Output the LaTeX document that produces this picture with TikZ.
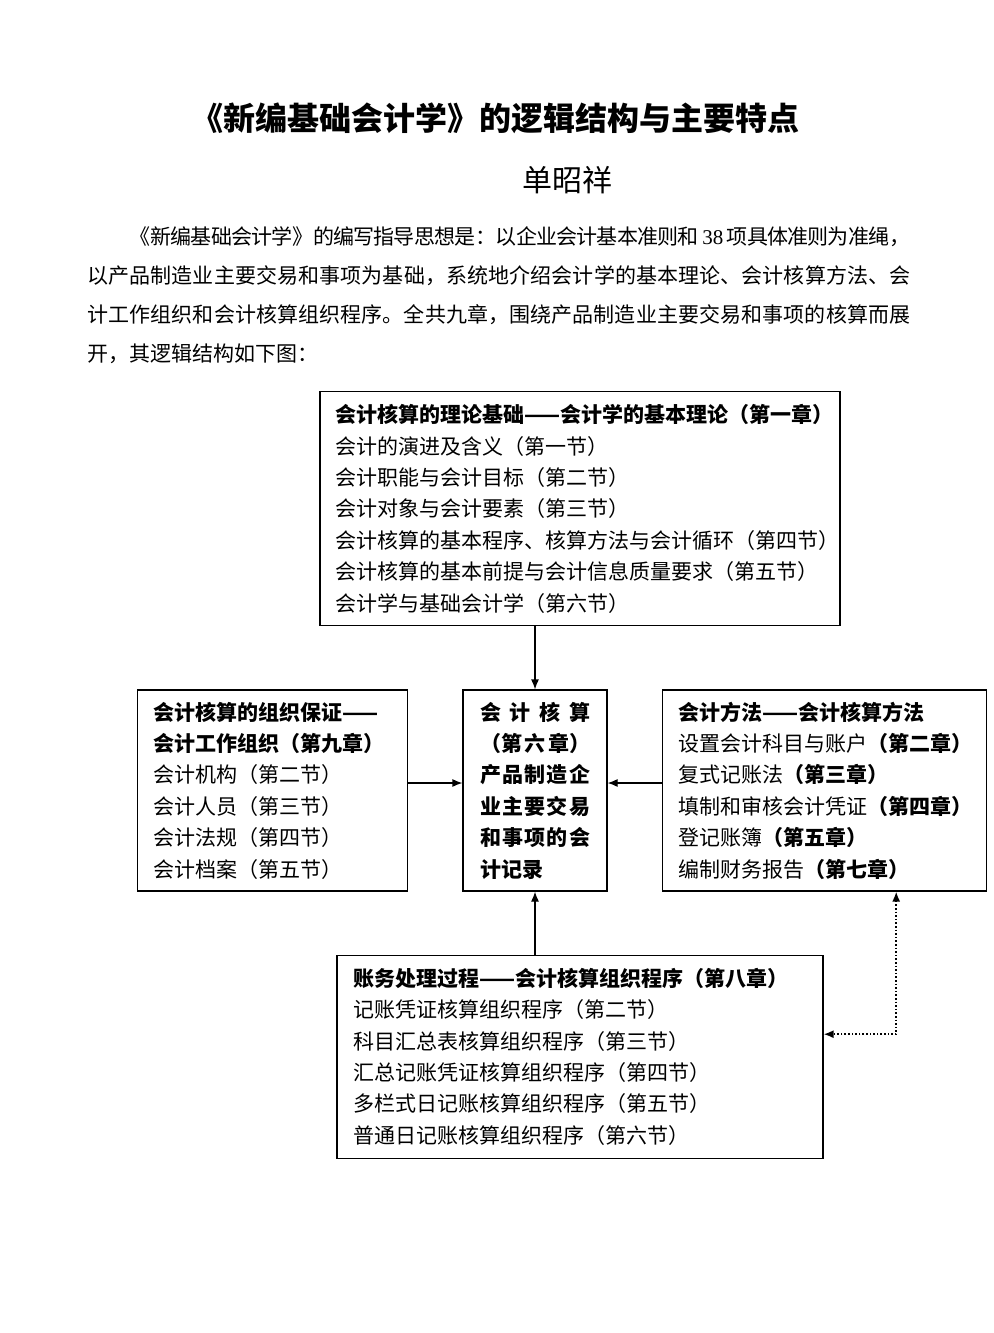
\documentclass[tikz,border=0pt]{standalone}
\usepackage{fontspec}
\setmainfont{Noto Sans CJK SC}
\newfontfamily\latinfont{Liberation Serif}
\usetikzlibrary{arrows.meta,positioning}
\newcommand\zhon{\XeTeXlinebreaklocale "zh"}
\newcommand\zhoff{\XeTeXlinebreaklocale ""}

\begin{document}
\begin{tikzpicture}[x=0.5pt,y=-0.5pt,node distance=27pt,>={Latex[length=5pt,width=4pt]}]
	\tikzstyle{rect}=[draw, semithick, rectangle, align=left, inner ysep=0pt, font=\zhoff\fontsize{10.5pt}{15.7pt}\selectfont]
	\tikzstyle{rect_c}=[draw, semithick, rectangle, align=justify, text width=55pt, inner xsep=8.5pt, minimum height=100.5pt, font=\zhon\fontsize{10.5pt}{15.7pt}\selectfont\bfseries]
	\useasboundingbox (0,0) rectangle (993,1333);

	\node (title) at (495,118) {\fontsize{16pt}{16pt}\selectfont\bfseries 《新编基础会计学》的逻辑结构与主要特点};
	\node (author) at (567,180) {\fontsize{15pt}{15pt}\selectfont 单昭祥};
	\node[anchor=north west, inner sep=0pt, text width=411.5pt, align=justify, font=\zhon\fontsize{10.5pt}{19.5pt}\selectfont] (intro) at (87,226) {\XeTeXlinebreakskip=0pt plus 1pt minus 0.5pt
		\hspace*{2em}《新编基础会计学》的编写指导思想是：以企业会计基本准则和 {\latinfont 38} 项具体准则为准绳，\linebreak
		以产品制造业主要交易和事项为基础，系统地介绍会计学的基本理论、会计核算方法、会\linebreak
		计工作组织和会计核算组织程序。全共九章，围绕产品制造业主要交易和事项的核算而展\linebreak
		开，其逻辑结构如下图：};

	\node[rect_c] (core) at (535,790.5) {\XeTeXlinebreakskip=0pt plus 2pt
		会 计 核 算\linebreak
		（第六章）\linebreak
		产品制造企业主要交易和事项的会计记录};
	\node[rect, text width=245pt, inner xsep=7.5pt, minimum height=117pt] (theory) [above=31.5pt of core, xshift=22.5pt] {\mbox{\textbf{会计核算的理论基础——会计学的基本理论（第一章）}}\\会计的演进及含义（第一节）\\会计职能与会计目标（第二节）\\会计对象与会计要素（第三节）\\\mbox{会计核算的基本程序、核算方法与会计循环（第四节）}\\会计核算的基本前提与会计信息质量要求（第五节）\\会计学与基础会计学（第六节）};
	\node[rect, text width=119pt, inner xsep=8pt, minimum height=100.5pt] (org) [left=of core] {\textbf{会计核算的组织保证——}\\\textbf{会计工作组织（第九章）}\\会计机构（第二节）\\会计人员（第三节）\\会计法规（第四节）\\会计档案（第五节）};
	\node[rect, text width=146pt, inner xsep=8pt, minimum height=100.5pt] (method) [right=of core] {\textbf{会计方法——会计核算方法}\\设置会计科目与账户\textbf{（第二章）}\\复式记账法\textbf{（第三章）}\\填制和审核会计凭证\textbf{（第四章）}\\登记账簿\textbf{（第五章）}\\编制财务报告\textbf{（第七章）}};
	\node[rect, text width=227pt, inner xsep=8pt, minimum height=101.5pt] (proc) [below=31.5pt of core, xshift=22.5pt] {\textbf{账务处理过程——会计核算组织程序（第八章）}\\记账凭证核算组织程序（第二节）\\科目汇总表核算组织程序（第三节）\\汇总记账凭证核算组织程序（第四节）\\多栏式日记账核算组织程序（第五节）\\普通日记账核算组织程序（第六节）};

	\draw[->, semithick] (theory.south -| core.north) -- (core.north);
	\draw[->, semithick] (proc.north -| core.south) -- (core.south);
	\draw[->, semithick] ([yshift=3.75pt]org.east) -- ([yshift=3.75pt]core.west);
	\draw[->, semithick] ([yshift=3.75pt]method.west) -- ([yshift=3.75pt]core.east);
	\draw[<->, line width=0.8pt, densely dotted] ([xshift=36pt]method.south) |- ([yshift=11.25pt]proc.east);
\end{tikzpicture}
\end{document}
